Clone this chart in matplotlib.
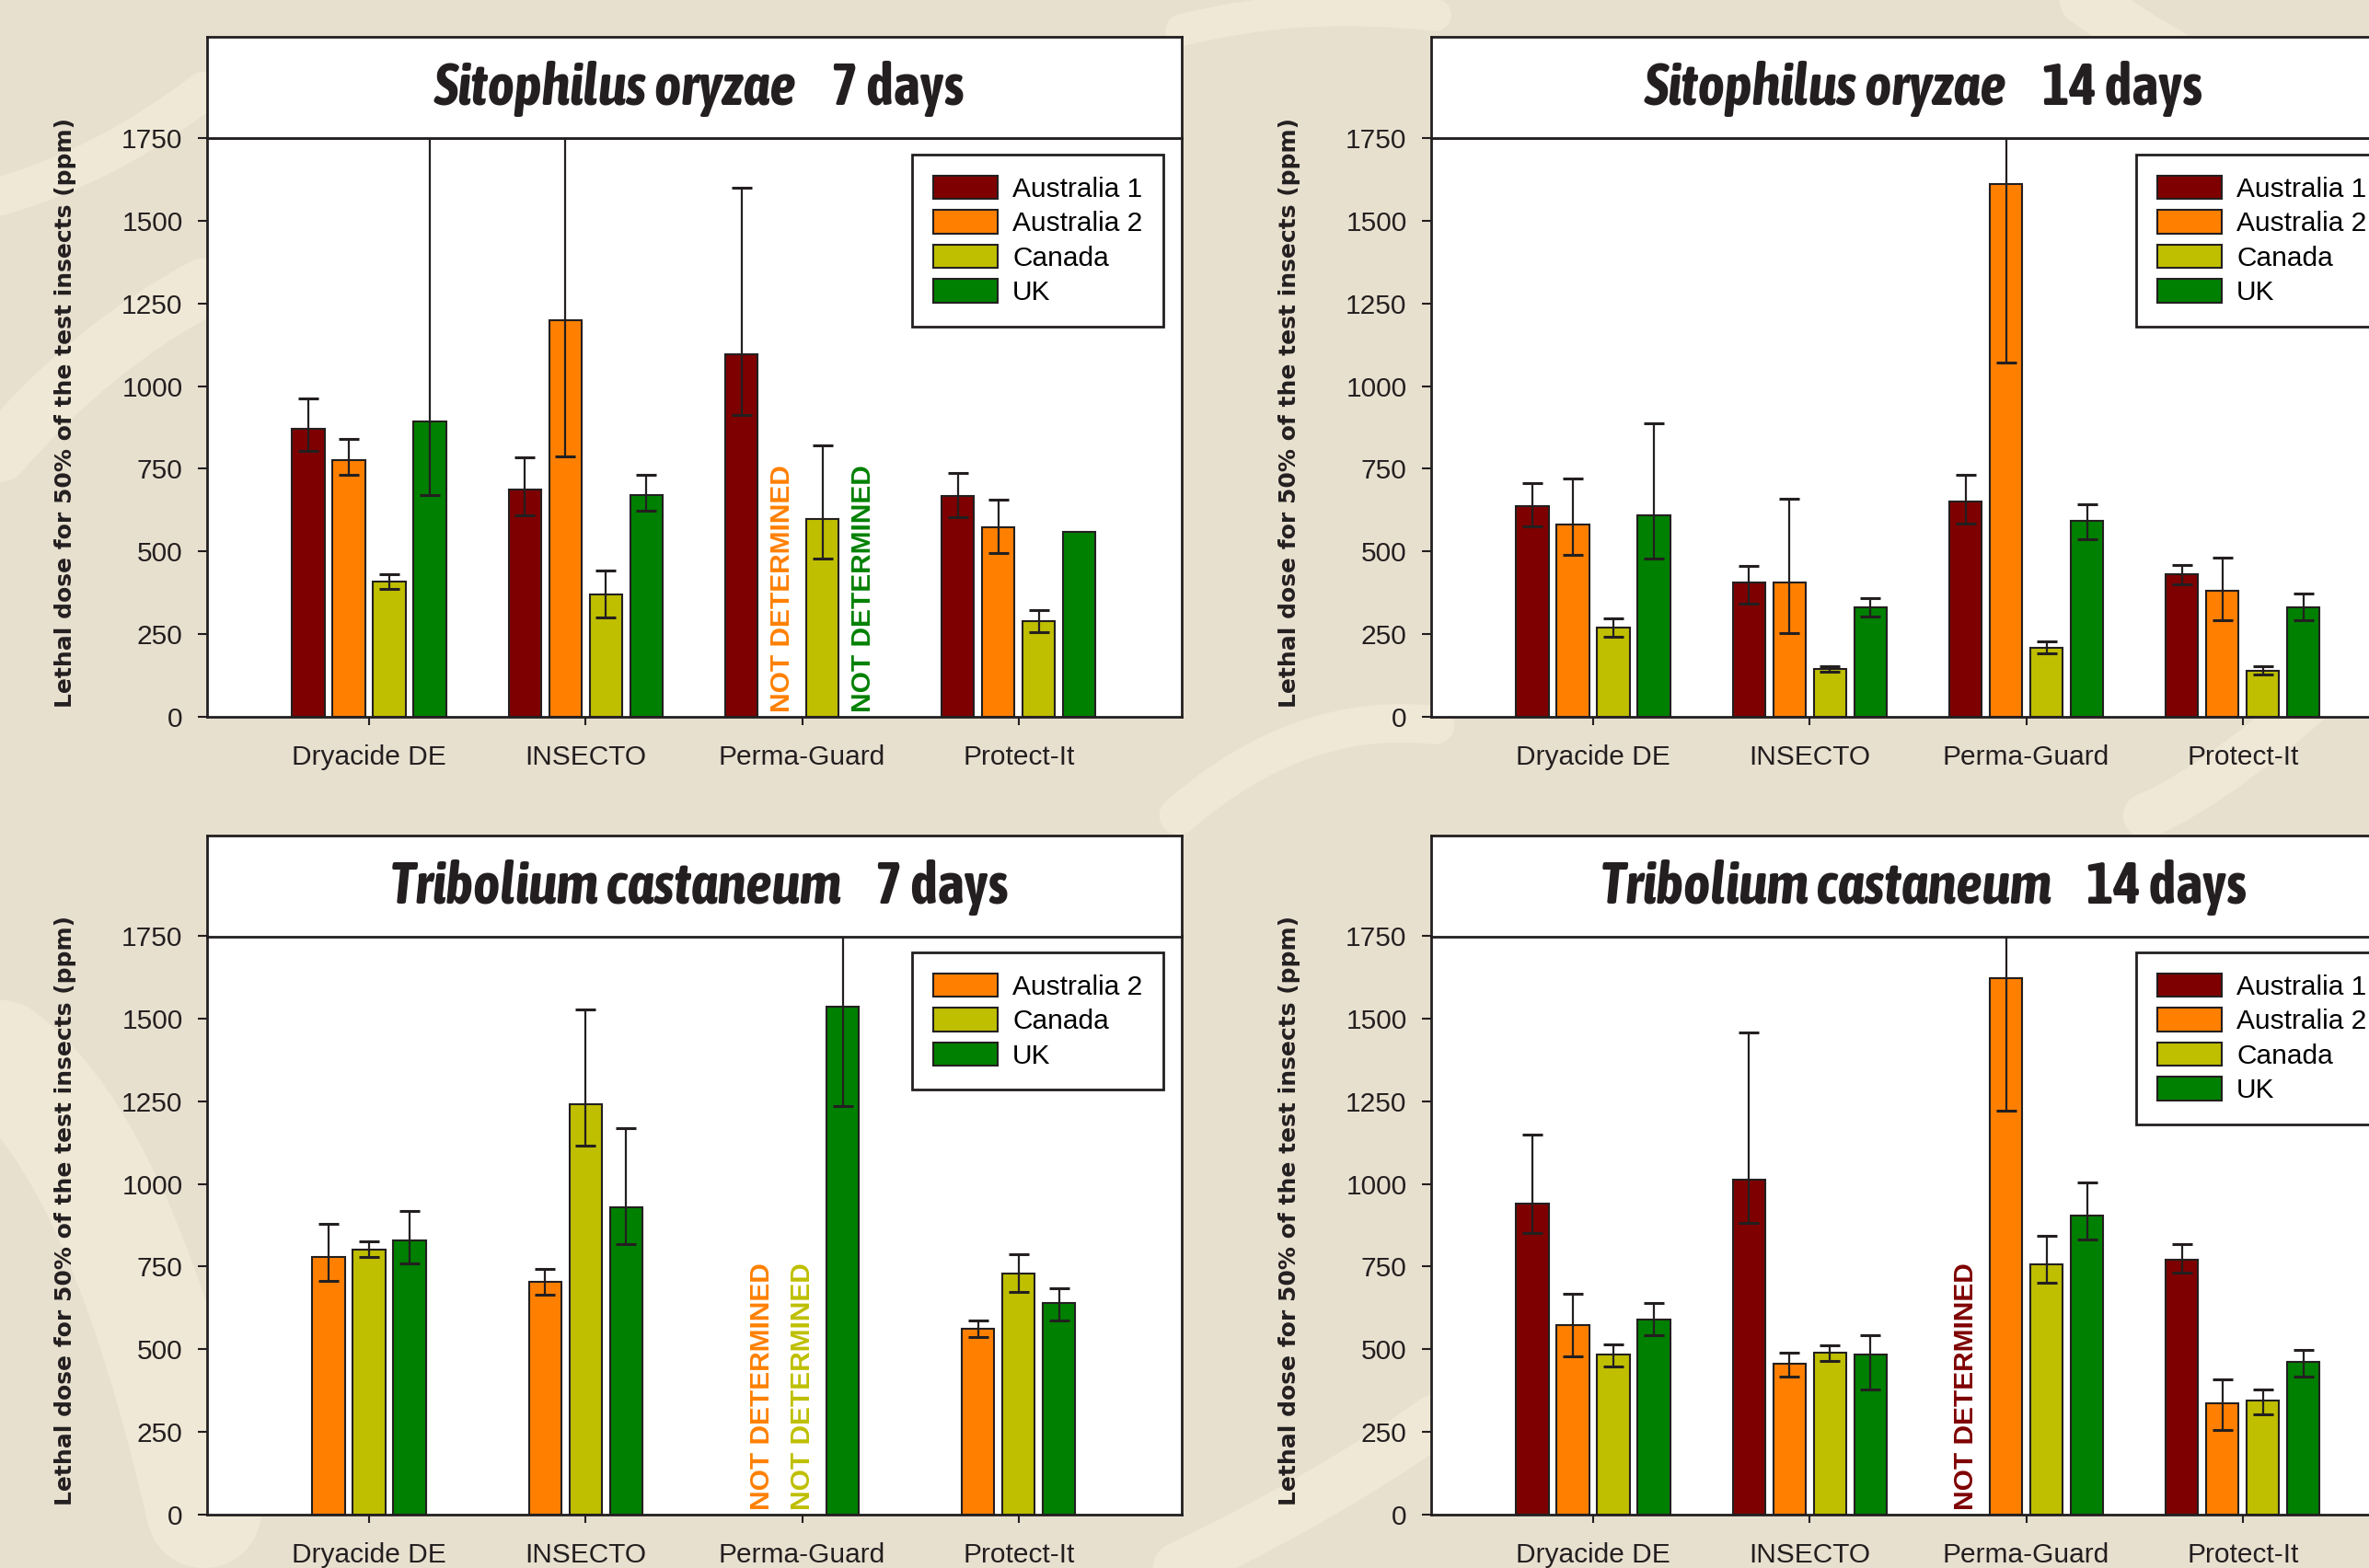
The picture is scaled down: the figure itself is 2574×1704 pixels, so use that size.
import numpy as np
import matplotlib.pyplot as plt
from matplotlib import font_manager
from matplotlib.patches import Patch, PathPatch
from matplotlib.path import Path

products = ['Dryacide DE', 'INSECTO', 'Perma-Guard', 'Protect-It']
strains = ['Australia 1', 'Australia 2', 'Canada', 'UK']
strain_colors = ['#7f0000', '#ff8000', '#bfbf00', '#008000']

nan = np.nan

# LD50 (ppm) and 95% limits, one row per strain, one column per product
so7_ld50 = [[870, 686, 1095, 667],
            [775, 1199, nan, 573],
            [409, 371, 599, 290],
            [892, 670, nan, 558]]
so7_low = [[805, 608, 913, 603],
           [732, 787, nan, 496],
           [386, 300, 478, 256],
           [670, 622, nan, nan]]
so7_high = [[962, 784, 1601, 738],
            [840, 1950, nan, 656],
            [430, 442, 822, 324],
            [2000, 733, nan, nan]]

so14_ld50 = [[638, 406, 652, 430],
             [581, 406, 1610, 382],
             [270, 145, 210, 140],
             [609, 330, 594, 332]]
so14_low = [[575, 342, 584, 400],
            [490, 253, 1071, 293],
            [243, 136, 193, 128],
            [478, 302, 536, 293]]
so14_high = [[706, 457, 733, 459],
             [720, 658, 2300, 480],
             [297, 152, 229, 154],
             [887, 359, 644, 373]]

# Tribolium 7 days: Australia 1 not in this test
tc7_strains = ['Australia 2', 'Canada', 'UK']
tc7_ld50 = [[780, 704, nan, 562],
            [801, 1240, nan, 730],
            [829, 930, 1536, 639]]
tc7_low = [[706, 665, nan, 537],
           [779, 1117, nan, 672],
           [760, 817, 1235, 586]]
tc7_high = [[879, 744, nan, 586],
            [826, 1527, nan, 788],
            [918, 1169, 1900, 685]]

tc14_ld50 = [[941, 1012, nan, 771],
             [572, 455, 1623, 337],
             [484, 490, 757, 345],
             [590, 484, 903, 463]]
tc14_low = [[850, 882, nan, 733],
            [478, 417, 1220, 255],
            [449, 466, 701, 302],
            [542, 378, 833, 417]]
tc14_high = [[1150, 1457, nan, 817],
             [669, 489, 2100, 408],
             [516, 512, 844, 379],
             [639, 543, 1003, 499]]

ink = '#231f20'
sans = 'Liberation Sans'

# the titles use a bold condensed face if one is installed
def is_bold(w):
    if isinstance(w, str):
        w = font_manager.weight_dict.get(w, 400)
    return w >= 600

bold_narrow = sorted({f.name for f in font_manager.fontManager.ttflist
                      if ('Narrow' in f.name or 'Condensed' in f.name) and is_bold(f.weight)})
if bold_narrow:
    title_family = [bold_narrow[0], sans]
    title_size = 45
else:
    title_family = [sans]
    title_size = 35

fig = plt.figure(figsize=(25.74, 17.04), dpi=100, facecolor='#e8e0cf')

# light swirls of the background
def swirl(pts, lw):
    pts = [(x / 1568, 1 - y / 1038) for x, y in pts]
    codes = [Path.MOVETO] + [Path.CURVE3] * (len(pts) - 1)
    fig.add_artist(PathPatch(Path(pts, codes), fill=False, lw=lw, ec='#efe8d6',
                             capstyle='round', transform=fig.transFigure, zorder=-5))

swirl([(0, 300), (60, 230), (135, 190)], 45)
swirl([(0, 130), (70, 110), (135, 60)], 30)
swirl([(0, 700), (80, 760), (135, 1000)], 90)
swirl([(780, 540), (860, 470), (950, 480)], 30)
swirl([(780, 1038), (880, 990), (950, 940)], 40)
swirl([(1380, 0), (1480, 70), (1568, 90)], 40)
swirl([(782, 20), (860, 0), (950, 10)], 25)
swirl([(1568, 430), (1470, 520), (1420, 540)], 35)

panels = [
    ('Sitophilus oryzae', '7 days', strains, so7_ld50, so7_low, so7_high, 0.08741, 0.54284, 0.91197),
    ('Sitophilus oryzae', '14 days', strains, so14_ld50, so14_low, so14_high, 0.60412, 0.54284, 0.91197),
    ('Tribolium castaneum', '7 days', tc7_strains, tc7_ld50, tc7_low, tc7_high, 0.08741, 0.03404, 0.40258),
    ('Tribolium castaneum', '14 days', strains, tc14_ld50, tc14_low, tc14_high, 0.60412, 0.03404, 0.40258),
]

w_ax = 1059 / 2574
h_plot = 629 / 1704
h_title = 110 / 1704
slot = 0.187
bar_w = 0.15

titles = []
for species, days, names, ld50, low, high, x0, y0, yt in panels:
    ax = fig.add_axes([x0, y0, w_ax, h_plot])
    tax = fig.add_axes([x0, yt, w_ax, h_title])
    tax.set_xticks([])
    tax.set_yticks([])
    for a in (ax, tax):
        a.set_facecolor('white')
        for s in a.spines.values():
            s.set_linewidth(2)
            s.set_color(ink)

    xc = np.arange(len(products))
    n = len(names)
    handles = []
    for k, name in enumerate(names):
        c = strain_colors[strains.index(name)]
        xs = xc + (k - (n - 1) / 2) * slot
        v = np.array(ld50[k], dtype=float)
        lo = np.array(low[k], dtype=float)
        hi = np.array(high[k], dtype=float)
        ax.bar(xs, v, width=bar_w, color=c, edgecolor=ink, linewidth=1.5, zorder=2)
        ax.errorbar(xs, v, yerr=[v - lo, hi - v], fmt='none', ecolor=ink,
                    elinewidth=1.6, capsize=8, capthick=2.2, zorder=3)
        for i in range(len(products)):
            if np.isnan(v[i]):
                ax.text(xs[i], 15, 'NOT DETERMINED', rotation=90, ha='center', va='bottom',
                        color=c, family=sans, weight='bold', size=21.5)
        handles.append(Patch(facecolor=c, edgecolor=ink, linewidth=1.5, label=name))

    ax.set_xlim(-0.748, 3.753)
    ax.set_ylim(0, 1750)
    ax.set_yticks(np.arange(0, 1751, 250))
    ax.set_xticks(xc)
    ax.set_xticklabels(products)
    ax.tick_params(axis='y', length=7, width=1.5, pad=12, labelsize=21.5, colors=ink)
    ax.tick_params(axis='x', length=6.5, width=1.5, pad=15, labelsize=21.5, colors=ink)
    for lab in ax.get_xticklabels() + ax.get_yticklabels():
        lab.set_family(sans)
    ax.set_ylabel('Lethal dose for 50% of the test insects (ppm)', family='DejaVu Sans',
                  weight='bold', size=18, color=ink)
    ax.yaxis.set_label_coords(-0.134, 0.525)

    leg = ax.legend(handles=handles, loc='upper right', bbox_to_anchor=(0.981, 0.971),
                    borderaxespad=0, fancybox=False, framealpha=1, edgecolor=ink,
                    prop={'family': sans, 'size': 21.5}, handlelength=2.35, handleheight=0.95,
                    handletextpad=0.55, labelspacing=0.28, borderpad=0.75)
    leg.get_frame().set_linewidth(2)

    t1 = tax.text(0, 0.33, species, transform=tax.transAxes, ha='left', va='baseline',
                  family=title_family, weight='bold', style='italic', size=title_size, color=ink)
    t2 = tax.text(0, 0.33, days, transform=tax.transAxes, ha='left', va='baseline',
                  family=title_family, weight='bold', size=title_size, color=ink)
    titles.append((tax, t1, t2))

# center "species  days" in each title box
fig.canvas.draw()
r = fig.canvas.get_renderer()
for tax, t1, t2 in titles:
    bb = tax.get_window_extent(r)
    w1 = t1.get_window_extent(r).width
    w2 = t2.get_window_extent(r).width
    gap = 38
    start = bb.x0 + bb.width * 0.505 - (w1 + gap + w2) / 2
    t1.set_x((start - bb.x0) / bb.width)
    t2.set_x((start + w1 + gap - bb.x0) / bb.width)

fig.savefig('out.png', dpi=100, facecolor=fig.get_facecolor())
